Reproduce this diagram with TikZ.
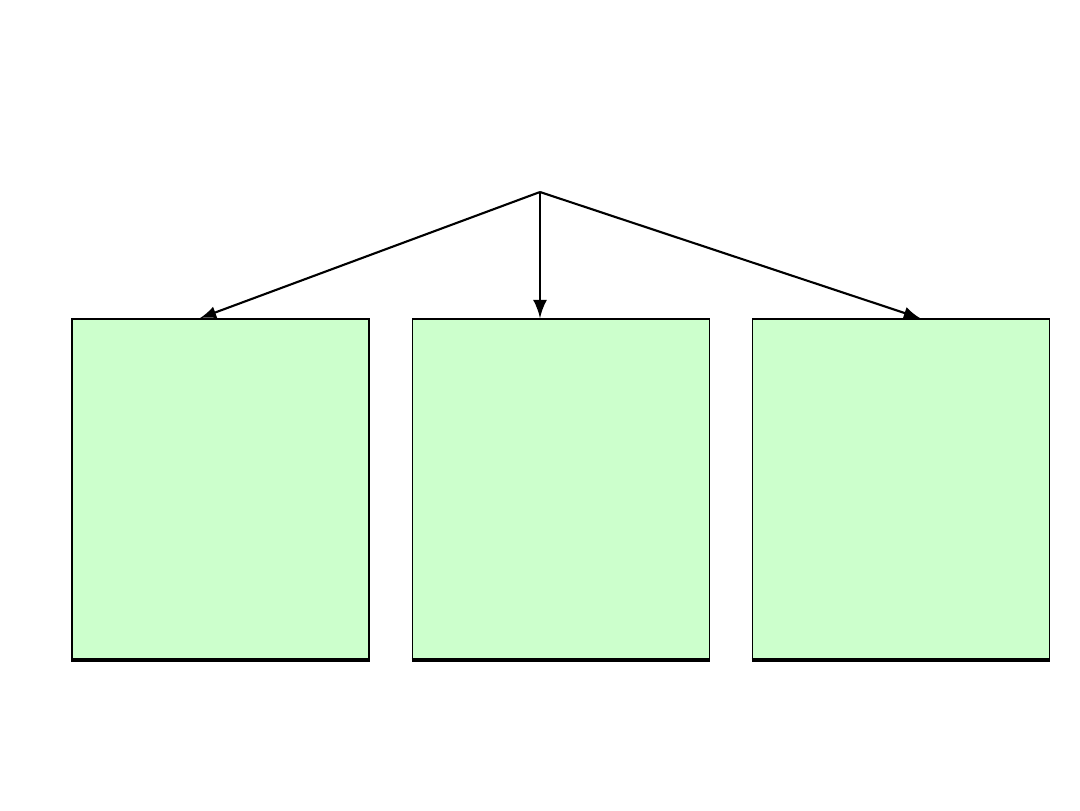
\documentclass[tikz,border=0pt]{standalone}
\usepackage{tikz}
\usetikzlibrary{arrows}

\begin{document}
\begin{tikzpicture}[
   box/.style={draw,fill=green!20,minimum width=2.97cm,minimum height=3.40cm,inner sep=0pt,line width=0.5pt},
   to/.style={-latex,line width=0.6pt},
   base/.style={line width=1.1pt}]
\useasboundingbox (0,0) rectangle (10.8,8.1);
\node[box] (boxL) at (2.205,3.21) {};
\node[box] (boxM) at (5.61,3.21) {};
\node[box] (boxR) at (9.01,3.21) {};
\coordinate (top) at (5.40,6.18);
\draw[base] (boxL.south west) -- (boxL.south east);
\draw[base] (boxM.south west) -- (boxM.south east);
\draw[base] (boxR.south west) -- (boxR.south east);
\draw[to] (top) -- ([xshift=-0.205cm]boxL.north);
\draw[to,line width=0.8pt] (top) -- ([xshift=-0.21cm]boxM.north);
\draw[to] (top) -- ([xshift=0.19cm]boxR.north);
\end{tikzpicture}
\end{document}
